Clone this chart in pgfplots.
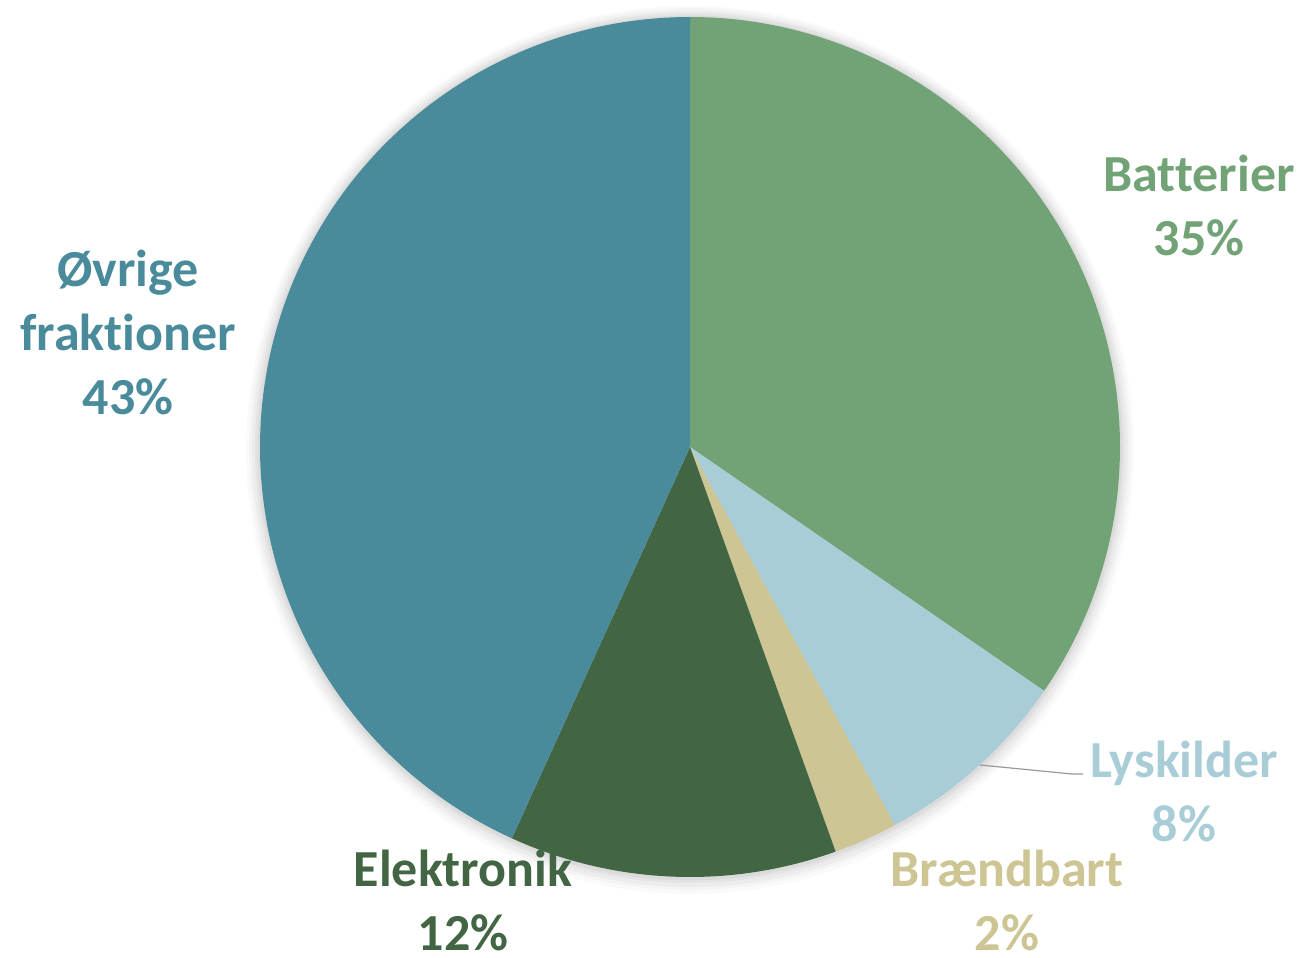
\documentclass[border=0pt]{standalone}
\usepackage{fontspec}
\setmainfont{Carlito}[Ligatures={NoCommon}]
\usepackage{pgfplots}
\pgfplotsset{compat=1.18}
\definecolor{cB}{HTML}{72A376}
\definecolor{cL}{HTML}{A8CDD6}
\definecolor{cBr}{HTML}{CDC594}
\definecolor{cE}{HTML}{426644}
\definecolor{cO}{HTML}{4A8B9B}
\tikzset{lbl/.style={font=\fontsize{26}{32}\selectfont\bfseries, align=center, inner sep=0pt}}
\begin{document}
\begin{tikzpicture}
% shares in percent (clockwise from 12 o'clock)
\def\vB{34.6}\def\vL{7.5}\def\vBr{2.4}\def\vE{12.3}\def\vO{43.2}
\pgfmathsetmacro\aA{90}
\pgfmathsetmacro\aB{\aA-3.6*\vB}
\pgfmathsetmacro\aC{\aB-3.6*\vL}
\pgfmathsetmacro\aD{\aC-3.6*\vBr}
\pgfmathsetmacro\aE{\aD-3.6*\vE}
\pgfmathsetmacro\aF{\aE-3.6*\vO}
\begin{axis}[scale only axis, width=652pt, height=478.5pt,
  xmin=0, xmax=1304, ymin=-957, ymax=0, axis lines=none, clip=false]
% soft shadow
\addplot[fill=black, fill opacity=0.02, draw=none, domain=0:360, samples=180] ({690+444*cos(x)},{-450+444*sin(x)}) -- cycle;
\addplot[fill=black, fill opacity=0.025, draw=none, domain=0:360, samples=180] ({690+441*cos(x)},{-449+441*sin(x)}) -- cycle;
\addplot[fill=black, fill opacity=0.03, draw=none, domain=0:360, samples=180] ({690+438*cos(x)},{-449+438*sin(x)}) -- cycle;
\addplot[fill=black, fill opacity=0.035, draw=none, domain=0:360, samples=180] ({690+435*cos(x)},{-448+435*sin(x)}) -- cycle;
\addplot[fill=black, fill opacity=0.04, draw=none, domain=0:360, samples=180] ({690+432.5*cos(x)},{-448+432.5*sin(x)}) -- cycle;
% wedges
\addplot[fill=cB, draw=none, domain=\aB:\aA, samples=120] ({690+430*cos(x)},{-447+430*sin(x)}) -- (axis cs:690,-447) -- cycle;
\addplot[fill=cL, draw=none, domain=\aC:\aB, samples=40] ({690+430*cos(x)},{-447+430*sin(x)}) -- (axis cs:690,-447) -- cycle;
\addplot[fill=cBr, draw=none, domain=\aD:\aC, samples=20] ({690+430*cos(x)},{-447+430*sin(x)}) -- (axis cs:690,-447) -- cycle;
\addplot[fill=cE, draw=none, domain=\aE:\aD, samples=60] ({690+430*cos(x)},{-447+430*sin(x)}) -- (axis cs:690,-447) -- cycle;
\addplot[fill=cO, draw=none, domain=\aF:\aE, samples=140] ({690+430*cos(x)},{-447+430*sin(x)}) -- (axis cs:690,-447) -- cycle;
% leader line
\addplot[draw=gray!80, line width=0.6pt] coordinates {(980,-765) (1072,-774) (1083,-774)};
% labels
\node[lbl, text=cB] at (axis cs:1199,-205) {Batterier\\35\%};
\node[lbl, text=cL] at (axis cs:1184,-791) {Lyskilder\\8\%};
\node[lbl, text=cBr] at (axis cs:1007,-900) {Brændbart\\2\%};
\node[lbl, text=cE] at (axis cs:463,-900) {Elektronik\\12\%};
\node[lbl, text=cO] at (axis cs:128,-332) {Øvrige\\fraktioner\\43\%};
\end{axis}
\pgfresetboundingbox
\path (current axis.south west) rectangle (current axis.north east);
\end{tikzpicture}
\end{document}
